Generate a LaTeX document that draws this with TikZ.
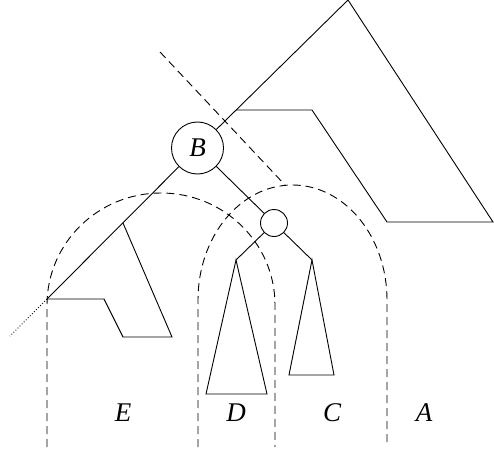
\documentclass[tikz,border=0pt]{standalone}
\usepackage{fontspec}
\setmainfont{Liberation Serif}
\begin{document}
\begin{tikzpicture}[x=1pt,y=-1pt,
  edge/.style={line width=0.9pt},
  cut/.style={line width=0.9pt,dash pattern=on 8pt off 5pt},
  vtx/.style={circle,draw,line width=0.9pt,inner sep=0pt},
  lbl/.style={font=\fontsize{27}{30}\selectfont\itshape,inner sep=0pt}]
\useasboundingbox (0,0) rectangle (494,457);

% vertices
\node[vtx,lbl,minimum size=52pt] (B) at (197.5,148) {B};
\node[vtx,minimum size=27pt] (c) at (274,223) {};

% apex subtree on the upper right
\coordinate (apex) at (348,0);
\coordinate (p1) at (236,110);
\coordinate (p2) at (312,110);
\coordinate (p3) at (387,222);
\coordinate (p4) at (493,222);
\draw[edge] (apex) -- (B);
\draw[edge] (p1) -- (p2) -- (p3) -- (p4) -- (apex);

% left subtree E
\coordinate (e1) at (123,223);
\coordinate (e2) at (47,299);
\coordinate (e3) at (104,299);
\coordinate (e4) at (123,337);
\coordinate (e5) at (172,337);
\coordinate (etail) at (10,336);
\draw[edge] (B) -- (e2);
\draw[edge] (e2) -- (e3) -- (e4) -- (e5) -- (e1);
\draw[line width=0.9pt,dotted] (e2) -- (etail);

% children of the small vertex
\coordinate (dl) at (236,260);
\coordinate (cr) at (312,260);
\draw[edge] (B) -- (c);
\draw[edge] (c) -- (dl);
\draw[edge] (c) -- (cr);
\draw[edge] (dl) -- (206,394) -- (267,394) -- cycle;
\draw[edge] (cr) -- (289,375) -- (334,375) -- cycle;

% dashed cuts
\coordinate (d0) at (160,52);
\coordinate (d1) at (285,185);
\draw[cut] (d0) -- (d1);
\draw[cut] (47,447) -- (47,305)
  arc[start angle=180,end angle=0,x radius=114pt,y radius=112pt] -- (275,447);
\draw[cut] (198,447) -- (198,300)
  arc[start angle=180,end angle=0,x radius=94.5pt,y radius=115pt] -- (387,447);

% region labels
\node[lbl] (E) at (123,413) {E};
\node[lbl] (D) at (236,413) {D};
\node[lbl] (C) at (332,413) {C};
\node[lbl] (A) at (424,413) {A};
\end{tikzpicture}
\end{document}
